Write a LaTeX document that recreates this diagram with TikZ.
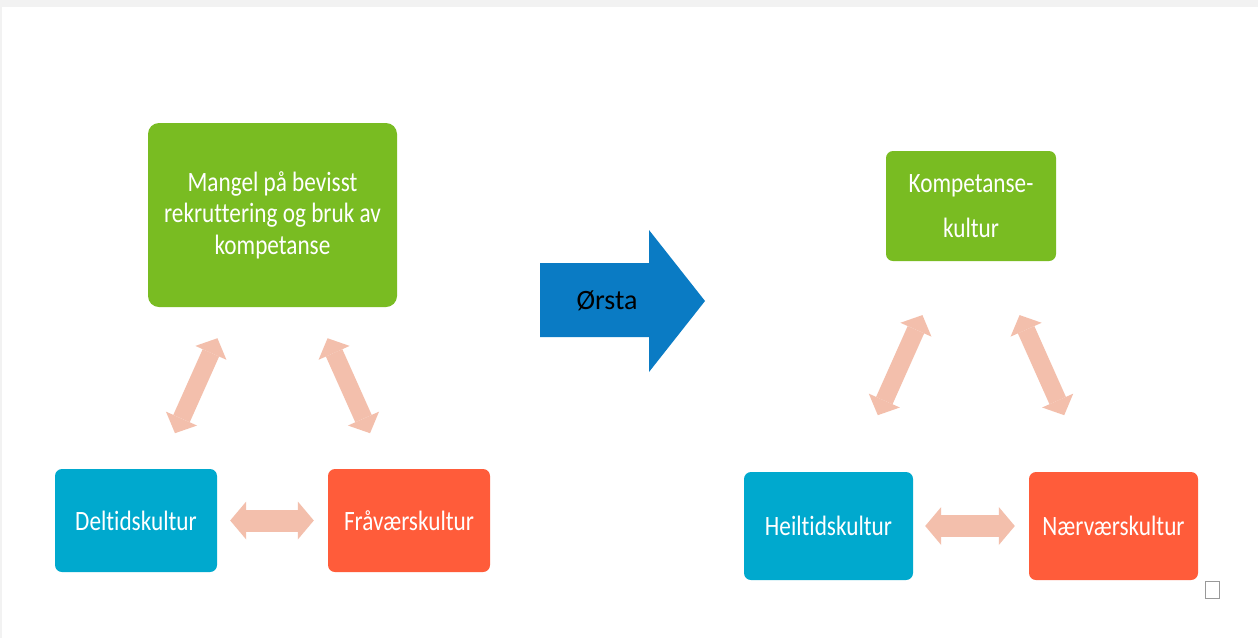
\documentclass[tikz,border=0pt]{standalone}
\usepackage{fontspec}
\setmainfont[Ligatures={NoCommon}]{Carlito}
\newfontfamily\condfont[FakeStretch=0.83,Ligatures={NoCommon}]{Carlito}
\usetikzlibrary{arrows.meta}
\definecolor{cgreen}{HTML}{79BC22}
\definecolor{cblue}{HTML}{00A9CE}
\definecolor{corange}{HTML}{FF5C3A}
\definecolor{carrow}{HTML}{F3BFAC}
\definecolor{cbig}{HTML}{0A7BC4}
\definecolor{cframe}{HTML}{F2F2F2}
\tikzset{
  box/.style={rounded corners=7pt, text=white, inner sep=0pt, align=center,
    font=\condfont\fontsize{28}{31.5}\selectfont},
  dbl/.style={draw=carrow, line width=18pt,
    {Triangle[length=16pt,width=34pt,line width=0pt]}-{Triangle[length=16pt,width=34pt,line width=0pt]}},
  dblh/.style={draw=carrow, line width=22pt,
    {Triangle[length=16pt,width=38pt,line width=0pt]}-{Triangle[length=16pt,width=38pt,line width=0pt]}},
}
\begin{document}
\begin{tikzpicture}[x=1pt,y=-1pt]
\useasboundingbox (0,0) rectangle (1258,638);
\fill[cframe] (0,0) rectangle (1258,638);
\fill[white] (2,7) rectangle (1258,638);

% left group
\node[box, fill=cgreen, rounded corners=11pt, minimum width=249pt, minimum height=184pt] (mangel) at (272.5,215)
  {Mangel på bevisst\\rekruttering og bruk av\\kompetanse};
\node[box, fill=cblue, minimum width=162pt, minimum height=103pt] (delt) at (136,520.5) {Deltidskultur};
\node[box, fill=corange, minimum width=162pt, minimum height=103pt] (fravaer) at (409,520.5) {Fråværskultur};

\draw[dbl, shorten <=34pt, shorten >=39pt] (mangel) -- (delt);
\draw[dbl, shorten <=34pt, shorten >=39pt] (mangel) -- (fravaer);
\draw[dblh, shorten <=13pt, shorten >=14pt] (delt) -- (fravaer);

% big arrow
\fill[cbig] (540,263) -- (649,263) -- (649,230) -- (705,301) -- (649,372) -- (649,337) -- (540,337) -- cycle;
\node[font=\fontsize{28}{30}\selectfont, text=black] (orsta) at (607,301) {Ørsta};

% right group
\node[box, fill=cgreen, minimum width=170pt, minimum height=110pt] (komp) at (971,206)
  {Kompetanse-\\[13pt]kultur};
\node[box, fill=cblue, minimum width=169pt, minimum height=108pt] (heil) at (828.5,526) {Heiltidskultur};
\node[box, fill=corange, minimum width=169pt, minimum height=108pt] (naer) at (1113.5,526) {Nærværskultur};

\draw[dbl, shorten <=59pt, shorten >=62pt] (komp) -- (heil);
\draw[dbl, shorten <=59pt, shorten >=62pt] (komp) -- (naer);
\draw[dblh, shorten <=12pt, shorten >=14pt] (heil) -- (naer);

% small square
\node[draw=gray!80, line width=1pt, fill=white, minimum width=14pt, minimum height=17pt, inner sep=0pt] (sq) at (1212.5,590) {};
\end{tikzpicture}
\end{document}
